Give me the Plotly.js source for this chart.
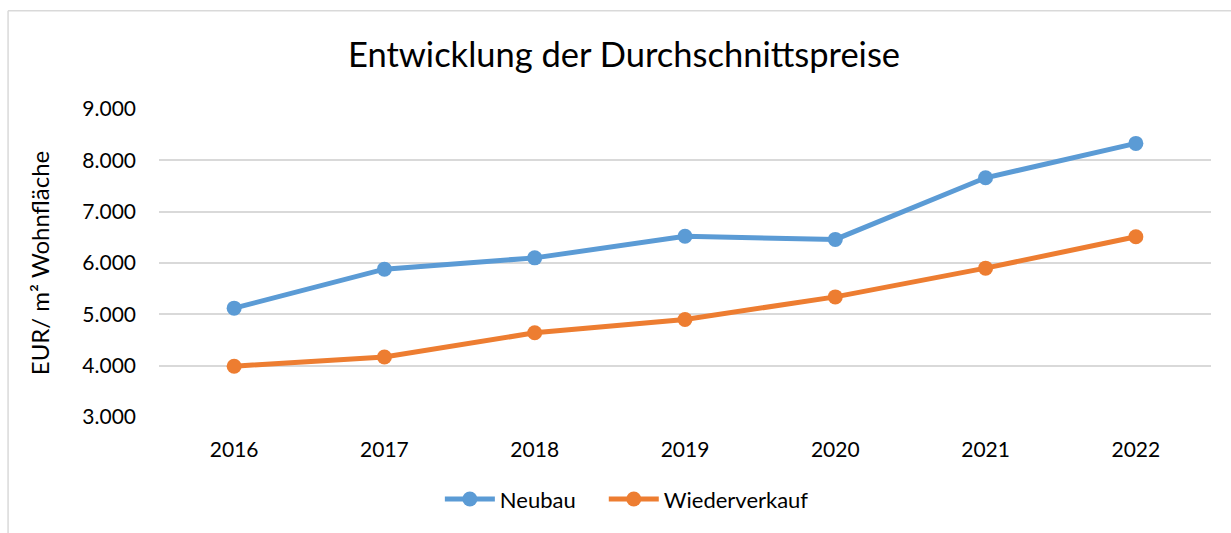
<!DOCTYPE html>
<html>
<head>
<meta charset="utf-8">
<script src="https://cdn.plot.ly/plotly-3.0.1.min.js"></script>
<style>
html,body{margin:0;padding:0;background:#fff;}
#chart{width:1231px;height:533px;}
</style>
</head>
<body>
<div id="chart"></div>
<script>
const years = ["2016","2017","2018","2019","2020","2021","2022"];
const neubau = [5120, 5880, 6100, 6520, 6460, 7660, 8330];
const wiederverkauf = [3990, 4170, 4640, 4900, 5340, 5900, 6510];
const yTickVals = [3000, 4000, 5000, 6000, 7000, 8000, 9000];
const yTickText = ["3.000","4.000","5.000","6.000","7.000","8.000","9.000"];

const W = 1231, H = 533;
const m = {l:159, r:19.5, t:108.5, b:115.5};
const pw = W - m.l - m.r, ph = H - m.t - m.b;
const px = x => (x - m.l) / pw;
const py = y => (H - m.b - y) / ph;

const font = "Lato, 'Open Sans', sans-serif";

const traces = [
  {x: years, y: neubau, name: "Neubau", type: "scatter", mode: "lines+markers", legend: "legend",
   line: {color: "#5B9BD5", width: 5}, marker: {color: "#5B9BD5", size: 15}},
  {x: years, y: wiederverkauf, name: "Wiederverkauf", type: "scatter", mode: "lines+markers", legend: "legend2",
   line: {color: "#ED7D31", width: 5}, marker: {color: "#ED7D31", size: 15}}
];

const legendBase = {orientation: "h", xanchor: "left", y: py(500), yanchor: "middle",
                    font: {size: 22}, bgcolor: "rgba(0,0,0,0)", itemwidth: 50};

const layout = {
  width: W, height: H,
  margin: m,
  paper_bgcolor: "#fff", plot_bgcolor: "#fff",
  font: {family: font, color: "#000", size: 21},
  title: {text: "Entwicklung der Durchschnittspreise", font: {family: font, size: 34.5, color: "#000"},
          x: 624/W, xanchor: "center", xref: "container", y: (H-55)/H, yanchor: "middle"},
  xaxis: {type: "category", range: [-0.5, 6.5], showgrid: false, zeroline: false, showline: false, ticks: "",
          ticklabelstandoff: 18, tickfont: {size: 21}, fixedrange: true},
  yaxis: {range: [3000, 9000], tickvals: yTickVals, ticktext: yTickText, showgrid: true,
          gridcolor: "#d9d9d9", gridwidth: 2, zeroline: false, showline: false, ticks: "",
          ticklabelstandoff: 22, tickfont: {size: 21},
          title: {text: "EUR/ m² Wohnfläche", font: {size: 24}, standoff: 25}, fixedrange: true},
  legend: Object.assign({}, legendBase, {x: px(440)}),
  legend2: Object.assign({}, legendBase, {x: px(604)}),
  shapes: [
    {type: "line", xref: "paper", yref: "paper", x0: px(8), x1: px(1240), y0: py(10), y1: py(10),
     line: {color: "#d9d9d9", width: 1.5}},
    {type: "line", xref: "paper", yref: "paper", x0: px(8), x1: px(8), y0: py(10), y1: py(540),
     line: {color: "#d9d9d9", width: 1.5}}
  ],
  showlegend: true
};

Plotly.newPlot("chart", traces, layout, {displayModeBar: false, staticPlot: true});
</script>
</body>
</html>
